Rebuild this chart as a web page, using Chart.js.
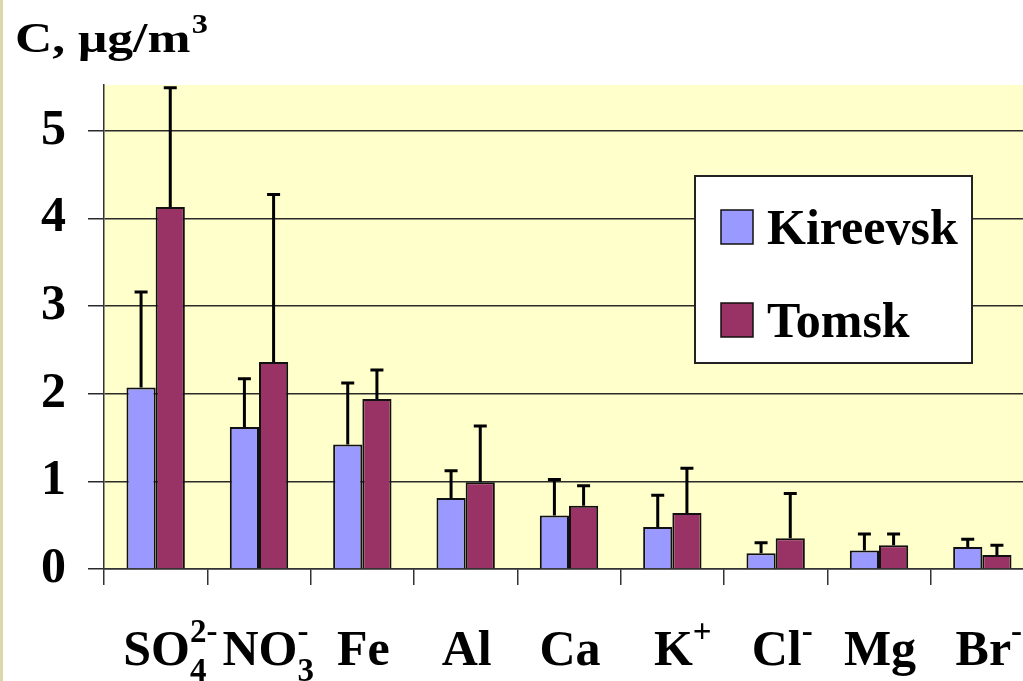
<!DOCTYPE html>
<html>
<head>
<meta charset="utf-8">
<script src="https://cdn.jsdelivr.net/npm/chart.js@4.4.1/dist/chart.umd.min.js"></script>
<style>
  html, body { margin: 0; padding: 0; background: #ffffff; overflow: hidden; }
  #wrap { position: relative; width: 1040px; height: 681px; }
</style>
</head>
<body>
<div id="wrap"><canvas id="c"></canvas></div>
<script>
// Ion / element names, split into base text, subscript and superscript parts
const categories = ['SO4 2-', 'NO3 -', 'Fe', 'Al', 'Ca', 'K +', 'Cl -', 'Mg', 'Br -'];
const labelBase = ['SO', 'NO', 'Fe', 'Al', 'Ca', 'K', 'Cl', 'Mg', 'Br'];
const labelSub  = ['4', '3', '', '', '', '', '', '', ''];
const labelSup  = ['2-', '-', '', '', '', '+', '-', '', '-'];

// Mean concentrations, µg/m3
const kireevsk = [2.07, 1.62, 1.42, 0.81, 0.61, 0.48, 0.18, 0.21, 0.25];
const tomsk    = [4.13, 2.36, 1.94, 0.99, 0.72, 0.64, 0.35, 0.27, 0.16];
// Upper error (standard deviation) for each mean
const kireevskErr = [1.09, 0.55, 0.70, 0.31, 0.41, 0.36, 0.12, 0.19, 0.09];
const tomskErr    = [1.36, 1.91, 0.33, 0.64, 0.23, 0.51, 0.51, 0.13, 0.11];

const seriesNames = ['Kireevsk', 'Tomsk'];
const yTicks = [0, 1, 2, 3, 4, 5];
const yTitle = 'C, μg/m';
const yTitleSup = '3';

const FONT = '"Liberation Serif", "Times New Roman", serif';
const errors = [kireevskErr, tomskErr];

const backgroundPlugin = {
  id: 'plotBackground',
  beforeDraw(chart) {
    const { ctx, chartArea: a } = chart;
    ctx.save();
    ctx.fillStyle = '#FFFFCC';
    ctx.fillRect(a.left, a.top, a.right - a.left, a.bottom - a.top);
    // thin tan edge on the left of the slide
    ctx.fillStyle = '#DCD8AA';
    ctx.fillRect(0, 0, 3, chart.height);
    ctx.restore();
  }
};

const errorBarPlugin = {
  id: 'errorBars',
  afterDatasetsDraw(chart) {
    const { ctx } = chart;
    const y = chart.scales.y;
    ctx.save();
    ctx.strokeStyle = '#000';
    ctx.lineWidth = 3;
    chart.data.datasets.forEach((ds, di) => {
      const meta = chart.getDatasetMeta(di);
      meta.data.forEach((bar, i) => {
        const top = y.getPixelForValue(ds.data[i] + errors[di][i]);
        ctx.beginPath();
        ctx.moveTo(bar.x, bar.y);
        ctx.lineTo(bar.x, top);
        ctx.moveTo(bar.x - 6.5, top);
        ctx.lineTo(bar.x + 6.5, top);
        ctx.stroke();
      });
    });
    ctx.restore();
  }
};

const textPlugin = {
  id: 'texts',
  afterDraw(chart) {
    const { ctx, chartArea: a } = chart;
    const x = chart.scales.x;
    ctx.save();
    ctx.fillStyle = '#000';
    ctx.textBaseline = 'alphabetic';
    ctx.textAlign = 'left';

    // Category labels with chemical sub/superscripts (base text centred)
    const baseFont = 'bold 50px ' + FONT;
    const smallFont = 'bold 33px ' + FONT;
    labelBase.forEach((base, i) => {
      ctx.font = baseFont;
      const wb = ctx.measureText(base).width;
      const cx = x.getPixelForValue(i);
      const sx = cx - wb / 2 + 1;
      ctx.fillText(base, sx, 665);
      ctx.font = smallFont;
      if (labelSup[i]) ctx.fillText(labelSup[i], sx + wb, 642);
      if (labelSub[i]) ctx.fillText(labelSub[i], sx + wb, 681);
    });

    // Y axis title
    ctx.save();
    ctx.translate(15, 52);
    ctx.scale(1.2, 1);
    ctx.font = 'bold 43px ' + FONT;
    ctx.fillText(yTitle, 0, 0);
    const tw = ctx.measureText(yTitle).width;
    ctx.font = 'bold 27px ' + FONT;
    ctx.fillText(yTitleSup, tw + 1, -19);
    ctx.restore();

    // Legend box
    const lx = a.left + 591, ly = a.top + 91, lw = 277, lh = 187;
    ctx.fillStyle = '#FFFFFF';
    ctx.fillRect(lx, ly, lw, lh);
    ctx.strokeStyle = '#222';
    ctx.lineWidth = 2;
    ctx.strokeRect(lx, ly, lw, lh);
    chart.data.datasets.forEach((ds, di) => {
      const ry = ly + 34 + di * 93;
      ctx.fillStyle = ds.backgroundColor;
      ctx.fillRect(lx + 26, ry, 32, 34);
      ctx.strokeStyle = '#111';
      ctx.lineWidth = 1.5;
      ctx.strokeRect(lx + 26, ry, 32, 34);
      ctx.fillStyle = '#000';
      ctx.font = 'bold 50px ' + FONT;
      ctx.fillText(ds.label, lx + 72, ry + 34);
    });
    ctx.restore();
  }
};

new Chart(document.getElementById('c'), {
  type: 'bar',
  data: {
    labels: categories,
    datasets: [
      { label: seriesNames[0], data: kireevsk, backgroundColor: '#9999FF', borderColor: '#111', borderWidth: 2 },
      { label: seriesNames[1], data: tomsk, backgroundColor: '#993366', borderColor: '#111', borderWidth: 2 }
    ]
  },
  options: {
    responsive: true,
    maintainAspectRatio: false,
    animation: false,
    devicePixelRatio: 1,
    datasets: { bar: { categoryPercentage: 0.565, barPercentage: 1.0 } },
    layout: { padding: { top: 85, right: 6, left: 0, bottom: 0 } },
    plugins: { legend: { display: false }, tooltip: { enabled: false }, title: { display: false } },
    scales: {
      x: {
        ticks: { display: false },
        grid: { drawOnChartArea: false, drawTicks: true, tickLength: 16, color: '#333', lineWidth: 1.5, offset: true },
        border: { display: true, color: '#333', width: 1.5 },
        afterFit(scale) { scale.height = 112; }
      },
      y: {
        min: 0,
        max: 5.52,
        afterBuildTicks(scale) { scale.ticks = yTicks.map(v => ({ value: v })); },
        ticks: { color: '#000', padding: 22, font: { family: FONT, size: 50, weight: 'bold' } },
        grid: { color: '#2a2a2a', lineWidth: 1.5, drawTicks: true, tickLength: 16 },
        border: { display: true, color: '#333', width: 1.5 },
        afterFit(scale) { scale.width = 104; }
      }
    }
  },
  plugins: [backgroundPlugin, errorBarPlugin, textPlugin]
});
</script>
</body>
</html>
